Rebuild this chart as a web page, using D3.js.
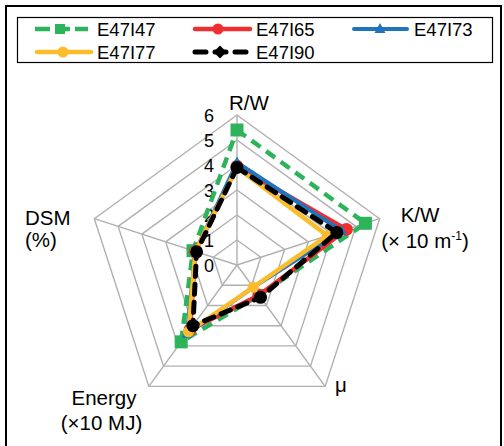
<!DOCTYPE html>
<html>
<head>
<meta charset="utf-8">
<script src="https://cdn.jsdelivr.net/npm/d3@7"></script>
<style>
  html, body { margin: 0; padding: 0; background: #fff; }
  svg { display: block; font-family: "Liberation Sans", Arial, sans-serif; }
</style>
</head>
<body>
<svg id="chart" width="504" height="446"></svg>
<script>
// Axis names, clockwise from the top
const axes = ["R/W", "K/W", "μ", "Energy", "DSM"];
const tickValues = [0, 1, 2, 3, 4, 5, 6];
const seriesNames = ["E47I47", "E47I65", "E47I73", "E47I77", "E47I90"];

// Values per series, in axis order
const E47I47 = [5.4, 5.4, 1.5, 3.8, 1.85];
const E47I65 = [3.95, 4.6, 1.5, 3.2, 1.75];
const E47I73 = [4.1, 4.4, 1.1, 3.4, 1.75];
const E47I77 = [3.9, 3.8, 1.1, 3.3, 1.75];
const E47I90 = [3.9, 4.2, 1.6, 3.0, 1.7];

const seriesValues = [E47I47, E47I65, E47I73, E47I77, E47I90];

const styles = {
  E47I47: { color: "#2db45a", width: 4.5, dash: "11,7", cap: "butt", marker: "square", size: 13 },
  E47I65: { color: "#ee2e31", width: 4.5, dash: null, cap: "round", marker: "circle", size: 6.5 },
  E47I73: { color: "#1f74bb", width: 4, dash: null, cap: "round", marker: "triangle", size: 11 },
  E47I77: { color: "#fbbd2c", width: 4.5, dash: null, cap: "round", marker: "circle", size: 5.5 },
  E47I90: { color: "#000000", width: 5, dash: "10,8", cap: "round", marker: "circle", size: 6.5 }
};

const svg = d3.select("#chart");
const cx = 237, cy = 265, R = 150;
const r = d3.scaleLinear().domain([0, 6]).range([0, R]);
const angle = d3.scalePoint().domain(axes).range([0, 2 * Math.PI * (axes.length - 1) / axes.length]);

function pt(axis, v) {
  const a = angle(axis);
  return [cx + r(v) * Math.sin(a), cy - r(v) * Math.cos(a)];
}

// Outer frame
svg.append("rect")
  .attr("x", 6).attr("y", 6).attr("width", 495).attr("height", 470)
  .attr("fill", "none").attr("stroke", "#000").attr("stroke-width", 2);

// Grid rings
const grid = svg.append("g");
tickValues.filter(v => v > 0).forEach(v => {
  grid.append("polygon")
    .attr("points", axes.map(a => pt(a, v).join(",")).join(" "))
    .attr("fill", "none").attr("stroke", "#b0b0b0").attr("stroke-width", 1.4);
});
axes.forEach(a => {
  const p = pt(a, 6);
  grid.append("line")
    .attr("x1", cx).attr("y1", cy).attr("x2", p[0]).attr("y2", p[1])
    .attr("stroke", "#b0b0b0").attr("stroke-width", 1.4);
});

// Tick labels along the top axis
svg.append("g").selectAll("text").data(tickValues).join("text")
  .attr("x", 214)
  .attr("y", d => cy - r(d) + 7)
  .attr("text-anchor", "end")
  .attr("font-size", 18)
  .attr("fill", "#000")
  .text(d => d);

// Axis labels
const lab = svg.append("g").attr("font-size", 20.5).attr("fill", "#000");
lab.append("text").attr("x", 249).attr("y", 110).attr("text-anchor", "middle").text(axes[0]);
lab.append("text").attr("x", 420).attr("y", 222).attr("text-anchor", "middle").text(axes[1]);
const kw2 = lab.append("text").attr("x", 425).attr("y", 248).attr("text-anchor", "middle");
kw2.append("tspan").text("(× 10 m");
kw2.append("tspan").attr("font-size", 12).attr("dy", -8).text("-1");
kw2.append("tspan").attr("dy", 8).text(")");
lab.append("text").attr("x", 335).attr("y", 392).text(axes[2]);
lab.append("text").attr("x", 104).attr("y", 405).attr("text-anchor", "middle").text(axes[3]);
lab.append("text").attr("x", 101.5).attr("y", 430).attr("text-anchor", "middle").text("(×10 MJ)");
lab.append("text").attr("x", 25).attr("y", 225).text(axes[4]);
lab.append("text").attr("x", 25).attr("y", 247).text("(%)");

function drawMarker(g, type, x, y, size, color) {
  if (type === "square") {
    g.append("rect").attr("x", x - size / 2).attr("y", y - size / 2)
      .attr("width", size).attr("height", size).attr("fill", color);
  } else if (type === "circle") {
    g.append("circle").attr("cx", x).attr("cy", y).attr("r", size).attr("fill", color);
  } else if (type === "triangle") {
    const h = size * 0.9;
    g.append("path")
      .attr("d", `M${x},${y - h * 0.6}L${x + size / 2},${y + h * 0.4}L${x - size / 2},${y + h * 0.4}Z`)
      .attr("fill", color);
  } else if (type === "diamond") {
    g.append("path")
      .attr("d", `M${x},${y - size}L${x + size},${y}L${x},${y + size}L${x - size},${y}Z`)
      .attr("fill", color);
  }
}

// Series polygons
const lineGen = d3.line().curve(d3.curveLinearClosed);
seriesNames.forEach((name, i) => {
  const s = styles[name];
  const pts = axes.map((a, j) => pt(a, seriesValues[i][j]));
  const g = svg.append("g");
  g.append("path")
    .attr("d", lineGen(pts))
    .attr("fill", "none")
    .attr("stroke", s.color)
    .attr("stroke-width", s.width)
    .attr("stroke-linejoin", "round")
    .attr("stroke-linecap", s.cap)
    .attr("stroke-dasharray", s.dash);
  pts.forEach(p => drawMarker(g, s.marker, p[0], p[1], s.size, s.color));
});

// Legend
svg.append("rect")
  .attr("x", 17.5).attr("y", 17.5).attr("width", 475).attr("height", 45)
  .attr("fill", "#fff").attr("stroke", "#000").attr("stroke-width", 1.2);

const legendItems = [
  { name: "E47I47", x1: 35, x2: 88, mx: 60, tx: 97, y: 29, marker: "square", ms: 10 },
  { name: "E47I65", x1: 193, x2: 252, mx: 218, tx: 256, y: 29, marker: "circle", ms: 5.5 },
  { name: "E47I73", x1: 352, x2: 409, mx: 380, tx: 414, y: 29, marker: "triangle", ms: 11 },
  { name: "E47I77", x1: 35, x2: 93, mx: 63, tx: 97, y: 52, marker: "circle", ms: 5.5 },
  { name: "E47I90", x1: 193, x2: 250, mx: 220, tx: 256, y: 52, marker: "diamond", ms: 6.5 }
];
const lg = svg.append("g");
legendItems.forEach(it => {
  const s = styles[it.name];
  lg.append("line")
    .attr("x1", it.x1 + (s.cap === "round" ? 2 : 0)).attr("x2", it.x2 - (s.cap === "round" ? 2 : 0))
    .attr("y1", it.y).attr("y2", it.y)
    .attr("stroke", s.color).attr("stroke-width", s.width)
    .attr("stroke-linecap", s.cap)
    .attr("stroke-dasharray", it.name === "E47I47" ? "15,5" : (it.name === "E47I90" ? "11,9" : null));
  drawMarker(lg, it.marker, it.mx, it.y, it.ms, s.color);
  lg.append("text")
    .attr("x", it.tx).attr("y", it.y + 6.5)
    .attr("font-size", 18.5).attr("fill", "#000")
    .text(it.name);
});
</script>
</body>
</html>
